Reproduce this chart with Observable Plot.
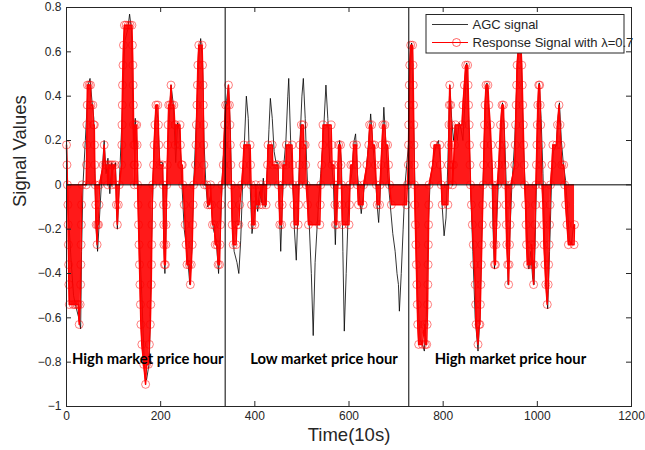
<!DOCTYPE html>
<html>
<head>
<meta charset="utf-8">
<script src="https://cdn.jsdelivr.net/npm/d3@7"></script>
<script src="https://cdn.jsdelivr.net/npm/@observablehq/plot@0.6"></script>
<style>
  html, body { margin: 0; padding: 0; background: white; }
</style>
</head>
<body>
<div id="chart"></div>
<script>
// ---- Data ----
const xTicks = [0, 200, 400, 600, 800, 1000, 1200];
const yTicks = [-1, -0.8, -0.6, -0.4, -0.2, 0, 0.2, 0.4, 0.6, 0.8];
const regionBoundaries = [337, 727];
const regionSpans = [[0, 337], [337, 727], [727, 1078]];
const regionLabels = ["High market price hour", "Low market price hour", "High market price hour"];
const legendLabels = ["AGC signal", "Response Signal with λ=0.7"];

// AGC signal (time in 10 s units, value)
const agcSignal = [
[0,0.2],[3,-0.1],[6,-0.2],[10,-0.35],[15,-0.5],[20,-0.55],[26,-0.6],[30,-0.65],[32,-0.3],[35,0],[40,0.2],[46,0.45],[50,0.48],[54,0.38],[58,0.3],[60,0.05],[63,-0.2],[66,-0.3],[70,-0.15],[74,0],[80,0.2],[84,0.05],[88,0.12],[92,-0.04],[96,0.1],[100,0.07],[104,0.1],[108,-0.2],[112,0],[118,0.3],[124,0.65],[130,0.7],[134,0.77],[138,0.7],[142,0.2],[146,0.3],[150,0.15],[154,-0.2],[160,-0.5],[166,-0.85],[170,-0.88],[176,-0.8],[180,-0.3],[185,0.1],[190,0.36],[194,0.3],[198,0.1],[204,0.1],[206,-0.2],[209,-0.4],[212,-0.1],[216,0.2],[222,0.45],[227,0.36],[232,0.1],[236,0.28],[240,0.25],[244,0.05],[250,-0.2],[256,-0.3],[262,-0.45],[266,-0.3],[270,0],[276,0.3],[282,0.6],[285,0.66],[289,0.55],[292,0.2],[296,0],[300,-0.1],[306,-0.05],[312,-0.2],[318,-0.25],[323,-0.4],[327,-0.2],[332,0.1],[336,0.2],[340,0.38],[344,0.45],[348,0.25],[352,-0.15],[356,-0.3],[362,-0.35],[366,-0.4],[370,-0.25],[374,0],[378,0.2],[382,0.4],[386,0.3],[390,0],[394,-0.22],[398,-0.15],[402,-0.05],[406,-0.12],[410,-0.03],[414,-0.08],[418,0.03],[422,-0.1],[426,0.05],[430,0.25],[433,0.39],[437,0.3],[441,0.15],[445,0.1],[449,0.1],[452,-0.1],[455,-0.3],[458,-0.1],[462,0.1],[466,0.2],[470,0.4],[472,0.48],[476,0.2],[480,0.05],[484,-0.2],[488,-0.34],[492,-0.1],[496,0.2],[500,0.4],[503,0.48],[507,0.3],[510,0.1],[515,-0.15],[520,-0.4],[524,-0.68],[528,-0.35],[532,-0.2],[536,-0.05],[540,0.05],[545,0.2],[551,0.45],[555,0.3],[559,0.1],[563,0.1],[567,0],[571,-0.27],[575,0],[580,0.2],[584,0.1],[587,-0.3],[590,-0.66],[594,-0.4],[598,-0.15],[602,0],[606,0.05],[611,0.2],[614,0.23],[618,0.05],[622,-0.05],[626,-0.13],[630,-0.05],[636,0.05],[642,0.2],[646,0.32],[650,0.2],[656,0.05],[660,-0.1],[663,-0.17],[667,0],[671,0.2],[674,0.35],[678,0.2],[682,0.05],[688,-0.1],[693,-0.22],[698,-0.3],[702,-0.4],[705,-0.45],[707,-0.57],[711,-0.4],[715,-0.2],[719,0],[723,0.1],[727,0.2],[730,0.55],[733,0.64],[737,0.3],[741,-0.1],[746,-0.5],[751,-0.7],[756,-0.72],[760,-0.75],[764,-0.6],[768,-0.2],[772,0],[778,0.1],[784,0.17],[790,0.2],[794,0.1],[798,-0.1],[802,-0.23],[806,-0.15],[810,0.1],[814,0.45],[818,0.3],[822,0.2],[826,0.27],[830,0.2],[834,0.28],[838,0.25],[842,0.2],[847,0.4],[850,0.55],[854,0.3],[858,0],[863,-0.3],[868,-0.6],[874,-0.75],[878,-0.6],[882,-0.2],[886,0.1],[890,0.4],[893,0.46],[898,0.3],[903,0.1],[906,-0.2],[909,-0.38],[913,-0.2],[918,0.05],[922,0.2],[926,0.37],[930,0.25],[934,0],[938,-0.45],[942,-0.2],[946,0],[952,0.2],[958,0.55],[962,0.66],[966,0.55],[970,0.2],[974,0],[978,-0.2],[982,-0.38],[986,-0.3],[990,-0.42],[993,-0.45],[996,-0.2],[1000,0.2],[1004,0.46],[1008,0.3],[1012,0.05],[1016,-0.3],[1020,-0.5],[1022,-0.56],[1026,-0.3],[1030,0],[1034,0.15],[1040,0.18],[1044,0.3],[1047,0.37],[1051,0.2],[1055,0.1],[1060,0.02],[1064,-0.1],[1068,-0.25],[1072,-0.27],[1076,-0.2],[1078,-0.18]
];

// Response signal with lambda = 0.7 (time, value), quantised levels
const responseSignal = [
[0,0.18],[1,0.09],[2,0],
[3,-0.09],[3.5,-0.18],[4,-0.27],[4.5,-0.36],[5,-0.45],[6,-0.54],[14,-0.54],[18,-0.54],[22,-0.54],[25,-0.54],[27,-0.63],[29,-0.54],[30,-0.45],[30.5,-0.36],[31,-0.27],[31.5,-0.18],[32,-0.09],[33,0],
[42,0],[42.5,0.09],[43,0.18],[43.5,0.27],[44,0.36],[44.5,0.45],[48,0.45],[51,0.45],[52,0.36],[56,0.36],[57,0.27],[59,0.27],[59.5,0.18],[60,0.09],[61,0],
[62,-0.09],[63,-0.18],[65,-0.27],[66,-0.18],[68,-0.18],[69,-0.09],[70,0],
[78,0.09],[80,0.18],[82,0.09],[86,0.09],[88,0],[90,0.09],[94,0.09],[96,0],[98,0.09],[103,0.09],[105,0],
[106,-0.09],[108,-0.18],[110,-0.09],[112,0],
[117,0.09],[117.5,0.18],[118,0.27],[118.5,0.36],[119,0.45],[120,0.54],[121,0.63],[123,0.72],[127,0.72],[131,0.72],[135,0.72],[139,0.72],[140,0.63],[141,0.54],[141.5,0.45],[142,0.36],[142.5,0.27],[143,0.18],[143.5,0.09],[144,0],
[145,0.09],[145.5,0.18],[146,0.27],[149,0.27],[150,0.18],[150.5,0.09],[151,0],
[152,-0.09],[153,-0.18],[154,-0.27],[155,-0.36],[156,-0.45],[157,-0.54],[158,-0.63],[160,-0.72],[164,-0.81],[168,-0.9],[170,-0.81],[174,-0.81],[176,-0.72],[178,-0.63],[179,-0.54],[180,-0.45],[180.5,-0.36],[181,-0.27],[181.5,-0.18],[182,-0.09],[183,0],
[185,0.09],[186,0.18],[188,0.27],[190,0.36],[194,0.36],[195,0.27],[196,0.18],[198,0.09],[204,0.09],[205,0],
[206,-0.09],[206.5,-0.18],[207,-0.27],[208,-0.36],[210,-0.36],[211,-0.27],[211.5,-0.18],[212,-0.09],[213,0],
[214,0.09],[215,0.18],[216,0.27],[217,0.36],[220,0.36],[222,0.45],[224,0.36],[228,0.36],[230,0.27],[231,0.18],[232,0.27],[241,0.27],[242,0.18],[244,0.09],[246,0.09],[247,0],
[250,-0.09],[252,-0.18],[254,-0.27],[256,-0.36],[261,-0.36],[263,-0.45],[265,-0.36],[267,-0.27],[268,-0.18],[269,-0.09],[270,0],
[274,0.09],[275,0.18],[276,0.27],[277,0.36],[278,0.45],[279,0.54],[281,0.63],[288,0.63],[289,0.54],[290,0.45],[290.5,0.36],[291,0.27],[291.5,0.18],[292,0.09],[293,0],
[298,0],[300,-0.09],[304,-0.09],[306,0],[308,-0.09],[310,-0.18],[314,-0.18],[316,-0.27],[320,-0.27],[322,-0.36],[325,-0.36],[326,-0.27],[327,-0.18],[328,-0.09],[330,0],
[333,0.09],[334,0.18],[336,0.27],[338,0.36],[342,0.36],[344,0.45],[346,0.36],[347,0.27],[348,0.18],[349,0.09],[350,0],
[351,-0.09],[352,-0.18],[354,-0.27],[360,-0.27],[362,-0.18],[366,-0.18],[368,-0.09],[372,0],
[375,0.09],[377,0.18],[390,0.18],[391,0.09],[392,0],
[393,-0.09],[394,-0.18],[400,-0.18],[401,-0.09],[402,0],
[404,-0.09],[410,-0.09],[413,0],[416,-0.09],[424,-0.09],[425,0],
[427,0.09],[428,0.18],[437,0.18],[438,0.09],[446,0.09],[449,0.09],[450,0],
[452,-0.09],[453,-0.18],[457,-0.18],[458,-0.09],[459,0],
[460,0.09],[466,0.09],[467,0.18],[479,0.18],[480,0.09],[481,0],
[483,-0.09],[484,-0.18],[492,-0.18],[493,-0.09],[494,0],
[495,0.09],[496,0.18],[499,0.27],[503,0.27],[504,0.18],[507,0.18],[508,0.09],[509,0],
[512,-0.09],[514,-0.18],[538,-0.18],[539,-0.09],[540,0],
[542,0.09],[544,0.18],[545,0.27],[562,0.27],[563,0.18],[564,0.09],[568,0.09],[569,0],
[570,-0.09],[571,-0.18],[574,-0.18],[575,-0.09],[576,0],
[577,0.09],[578,0.18],[582,0.18],[583,0.09],[584,0],
[585,-0.09],[586,-0.18],[600,-0.18],[601,-0.09],[602,0],
[604,0.09],[608,0.09],[610,0.18],[616,0.18],[617,0.09],[618,0],
[620,-0.09],[630,-0.09],[631,0],
[638,0.09],[642,0.18],[644,0.27],[648,0.27],[650,0.18],[654,0.18],[656,0.09],[658,0],
[660,-0.09],[665,-0.09],[666,0],
[668,0.09],[670,0.18],[672,0.27],[676,0.27],[678,0.18],[682,0.18],[684,0.09],[686,0],
[690,-0.09],[722,-0.09],[724,0],
[726,0.09],[726.5,0.18],[727,0.27],[727.5,0.36],[728,0.45],[729,0.54],[731,0.63],[735,0.63],[736,0.54],[736.5,0.45],[737,0.36],[737.5,0.27],[738,0.18],[738.5,0.09],[739,0],
[740,-0.09],[741,-0.18],[742,-0.27],[743,-0.36],[744,-0.45],[745,-0.54],[746,-0.63],[748,-0.72],[756,-0.72],[760,-0.63],[762,-0.72],[765,-0.72],[766,-0.63],[767,-0.54],[767.5,-0.45],[768,-0.36],[768.5,-0.27],[769,-0.18],[769.5,-0.09],[770,0],
[778,0.09],[781,0.18],[793,0.18],[794,0.09],[796,0],
[798,-0.09],[810,-0.09],[811,0],
[811.5,0.09],[812,0.18],[812.5,0.27],[813,0.36],[814,0.45],[816,0.36],[817,0.27],[818,0.18],[819,0.09],[820,0],
[822,0.09],[824,0.18],[826,0.27],[840,0.27],[842,0.36],[845,0.45],[848,0.54],[852,0.54],[853,0.45],[854,0.36],[855,0.27],[856,0.18],[857,0.09],[858,0],
[860,-0.09],[862,-0.18],[864,-0.27],[866,-0.36],[868,-0.45],[869,-0.54],[870,-0.63],[874,-0.72],[876,-0.63],[878,-0.63],[879,-0.54],[880,-0.45],[881,-0.36],[882,-0.27],[883,-0.18],[884,-0.09],[885,0],
[886,0.09],[887,0.18],[888,0.27],[889,0.36],[891,0.45],[895,0.45],[897,0.36],[900,0.27],[902,0.18],[904,0.09],[905,0],
[906,-0.09],[907,-0.18],[908,-0.27],[909,-0.36],[911,-0.36],[912,-0.27],[913,-0.18],[914,-0.09],[915,0],
[918,0.09],[920,0.18],[922,0.27],[925,0.36],[928,0.36],[929,0.27],[930,0.18],[931,0.09],[932,0],
[933,-0.09],[934,-0.18],[935,-0.27],[937,-0.36],[939,-0.45],[940,-0.36],[941,-0.27],[942,-0.18],[943,-0.09],[944,0],
[952,0.09],[953,0.18],[954,0.27],[955,0.36],[956,0.45],[957,0.54],[960,0.63],[965,0.63],[967,0.54],[968,0.45],[969,0.36],[970,0.27],[971,0.18],[972,0.09],[973,0],
[975,-0.09],[976,-0.18],[977,-0.27],[979,-0.36],[986,-0.36],[988,-0.27],[990,-0.36],[992,-0.45],[993,-0.36],[994,-0.27],[995,-0.18],[996,-0.09],[997,0],
[998,0.09],[999,0.18],[1000,0.27],[1001,0.36],[1003,0.45],[1005,0.45],[1006,0.36],[1007,0.27],[1008,0.18],[1009,0.09],[1010,0],
[1012,-0.09],[1013,-0.18],[1014,-0.27],[1016,-0.36],[1018,-0.45],[1021,-0.54],[1023,-0.45],[1024,-0.36],[1025,-0.27],[1026,-0.18],[1027,-0.09],[1028,0],
[1031,0.09],[1033,0.18],[1041,0.18],[1043,0.27],[1046,0.36],[1048,0.27],[1050,0.18],[1052,0.09],[1056,0.09],[1058,0],
[1060,-0.09],[1063,-0.18],[1066,-0.27],[1078,-0.27],[1079,-0.18]
];

// ---- Build tables ----
const agc = agcSignal.map(([t, v]) => ({t, v}));
const resp = responseSignal.map(([t, v]) => ({t, v}));
const regions = regionSpans.map(([a, b], i) => ({mid: (a + b) / 2, label: regionLabels[i]}));
const regionDx = [2, 7, 19];

const frameColor = "#262626";
const chart = Plot.plot({
  width: 645,
  height: 450,
  marginLeft: 66,
  marginRight: 14,
  marginTop: 7,
  marginBottom: 44,
  x: {domain: [0, 1200]},
  y: {domain: [-1, 0.8]},
  style: {fontFamily: "'Liberation Sans', Arial, sans-serif", fontSize: "12px", color: frameColor, background: "white"},
  marks: [
    Plot.line(agc, {x: "t", y: "v", stroke: "black", strokeWidth: 0.8}),
    Plot.areaY(resp, {x: "t", y: "v", fill: "#ff0000", fillOpacity: 0.9}),
    Plot.line(resp, {x: "t", y: "v", stroke: "#ff0000", strokeWidth: 1.5}),
    Plot.dot(resp, {x: "t", y: "v", r: 4, stroke: "#ff0000", strokeOpacity: 0.5, fill: "none", strokeWidth: 1}),
    Plot.ruleY([0], {stroke: "black", strokeWidth: 1}),
    Plot.ruleX(regionBoundaries, {stroke: "black", strokeWidth: 1}),
    ...regions.map((r, i) => Plot.text([r], {
      x: "mid", text: "label", frameAnchor: "bottom", dy: -47, dx: regionDx[i],
      textAnchor: "middle", lineAnchor: "middle",
      fontFamily: "Lato, 'Open Sans', sans-serif", fontWeight: "bold", fontSize: 14.8, fill: "black"
    })),
    Plot.tickX(xTicks, {x: d => d, insetTop: 394, stroke: frameColor}),
    Plot.tickX(xTicks, {x: d => d, insetBottom: 394, stroke: frameColor}),
    Plot.tickY(yTicks, {y: d => d, insetRight: 560, stroke: frameColor}),
    Plot.tickY(yTicks, {y: d => d, insetLeft: 560, stroke: frameColor}),
    Plot.axisX(xTicks, {tickSize: 0, tickPadding: 5, tickFormat: d3.format("d"), label: null, fontSize: 12}),
    Plot.axisY(yTicks, {tickSize: 0, tickPadding: 5, tickFormat: d3.format("~g"), label: null, fontSize: 12}),
    Plot.frame({stroke: frameColor}),
    Plot.text(["Time(10s)"], {frameAnchor: "bottom", dy: 29, lineAnchor: "middle", fontSize: 18.5, fill: frameColor}),
    Plot.text(["Signal Values"], {frameAnchor: "left", dx: -46, rotate: -90, lineAnchor: "middle", fontSize: 18.5, fill: frameColor})
  ]
});

document.getElementById("chart").appendChild(chart);

// ---- Legend (drawn into the plot's SVG) ----
const svg = d3.select(chart);
const lg = svg.append("g")
  .attr("font-family", "'Liberation Sans', Arial, sans-serif")
  .attr("font-size", 13)
  .attr("text-anchor", "start");
lg.append("rect").attr("x", 426).attr("y", 14.5).attr("width", 198).attr("height", 38.5)
  .attr("fill", "white").attr("stroke", frameColor).attr("stroke-width", 1);
lg.append("line").attr("x1", 432).attr("x2", 468).attr("y1", 24.5).attr("y2", 24.5).attr("stroke", "black").attr("stroke-width", 0.8);
lg.append("line").attr("x1", 432).attr("x2", 468).attr("y1", 42.5).attr("y2", 42.5).attr("stroke", "#ff0000").attr("stroke-width", 1);
lg.append("circle").attr("cx", 456.5).attr("cy", 42.5).attr("r", 4).attr("fill", "none").attr("stroke", "#ff0000").attr("stroke-opacity", 0.6);
lg.append("text").attr("x", 472.5).attr("y", 24.5).attr("dy", "0.35em").attr("text-anchor", "start").attr("fill", frameColor).text(legendLabels[0]);
lg.append("text").attr("x", 472.5).attr("y", 42.5).attr("dy", "0.35em").attr("text-anchor", "start").attr("fill", frameColor).text(legendLabels[1]);
</script>
</body>
</html>
